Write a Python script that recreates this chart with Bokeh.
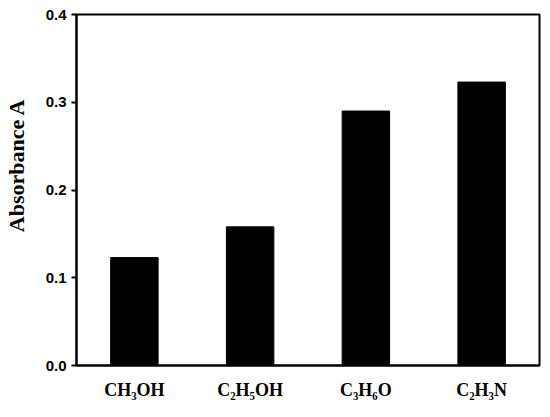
from bokeh.plotting import figure
from bokeh.models import Range1d, FixedTicker, NumeralTickFormatter, ColumnDataSource
from bokeh.embed import file_html
from bokeh.resources import INLINE

# Data
categories = ["CH\u2083OH", "C\u2082H\u2085OH", "C\u2083H\u2086O", "C\u2082H\u2083N"]
absorbance = [0.123, 0.158, 0.290, 0.323]
y_ticks = [0.0, 0.1, 0.2, 0.3, 0.4]
y_title = "Absorbance A"

source = ColumnDataSource(data=dict(cat=categories, val=absorbance))

p = figure(
    x_range=categories,
    y_range=Range1d(0, 0.4),
    width=546, height=409,
    output_backend="svg", toolbar_location=None,
    min_border_left=76, min_border_right=7, min_border_top=14, min_border_bottom=44,
)
p.x_range.range_padding = 0

p.vbar(x="cat", top="val", width=0.41, source=source,
       fill_color="black", line_color="black")

p.xgrid.visible = False
p.ygrid.visible = False
p.outline_line_color = "black"
p.outline_line_width = 2

ya = p.yaxis[0]
ya.ticker = FixedTicker(ticks=y_ticks)
ya.formatter = NumeralTickFormatter(format="0.0")
ya.axis_line_width = 2
ya.major_tick_line_width = 2
ya.major_tick_out = 5
ya.major_tick_in = 0
ya.minor_tick_line_color = None
ya.major_label_text_font = "Liberation Sans"
ya.major_label_text_font_style = "bold"
ya.major_label_text_font_size = "15px"
ya.major_label_text_color = "black"
ya.major_label_standoff = 5
ya.axis_label = "\u00a0" * 9 + y_title
ya.axis_label_text_font = "Liberation Serif"
ya.axis_label_text_font_style = "bold"
ya.axis_label_text_font_size = "22px"
ya.axis_label_text_color = "black"
ya.axis_label_standoff = 14

xa = p.xaxis[0]
xa.axis_line_width = 2
xa.major_tick_line_color = None
xa.major_tick_out = 0
xa.major_tick_in = 0
xa.minor_tick_line_color = None
xa.major_label_text_font = "Liberation Serif"
xa.major_label_text_font_style = "bold"
xa.major_label_text_font_size = "18px"
xa.major_label_text_color = "black"
xa.major_label_standoff = 14

open("out.html", "w").write(file_html(p, INLINE))
